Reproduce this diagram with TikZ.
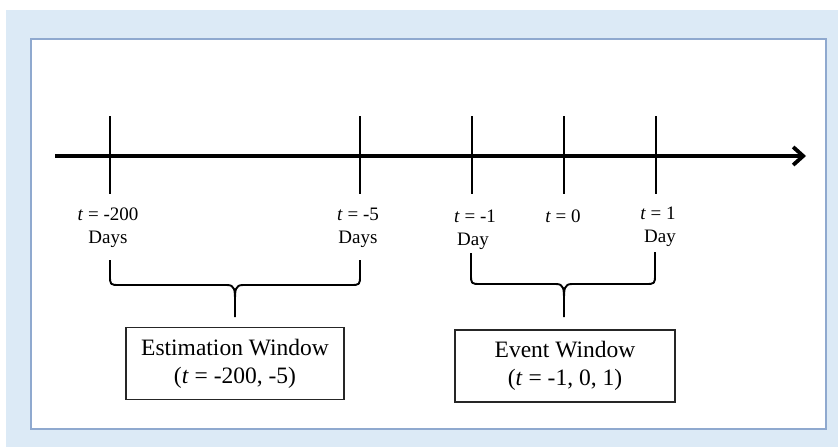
\documentclass[tikz,border=0pt]{standalone}
\usepackage{fontspec}
\setmainfont{Liberation Serif}
\usetikzlibrary{arrows.meta}
\definecolor{bgblue}{HTML}{DCEAF6}
\definecolor{frameblue}{HTML}{8FA9CF}
\tikzset{
  tick/.style={line width=2pt},
  tlabel/.style={anchor=base, inner sep=0pt, font=\fontsize{19}{22}\selectfont},
  brace/.style={line width=1.9pt, line join=round},
  winbox/.style={draw=black!85, line width=1.1pt, align=center, inner sep=0pt,
    font=\fontsize{23.5}{28}\selectfont}
}
\begin{document}
\begin{tikzpicture}[x=1pt,y=-1pt]
\useasboundingbox (0,0) rectangle (838,447);
\fill[white] (0,0) rectangle (838,447);
\fill[bgblue] (6,10) rectangle (838,447);
\draw[frameblue, line width=1.4pt, fill=white] (31,39) rectangle (826,429);

% axis
\coordinate (axL) at (55,156);
\coordinate (axR) at (806,156);
\draw[line width=3.6pt, -{Straight Barb[length=10pt, width=18pt, line width=3.8pt]}] (axL) -- (axR);

% ticks
\foreach \n/\x in {a/110, b/360, c/472, d/564, e/656}{
  \coordinate (\n top) at (\x,116);
  \coordinate (\n bot) at (\x,194);
  \draw[tick] (\n top) -- (\n bot);
}

% tick labels
\node[tlabel] (la1) at (108,220) {\textit{t} = -200};
\node[tlabel] (la2) at (108,243) {Days};
\node[tlabel] (lb1) at (358,220) {\textit{t} = -5};
\node[tlabel] (lb2) at (358,243) {Days};
\node[tlabel] (lc1) at (475,222) {\textit{t} = -1};
\node[tlabel] (lc2) at (473,245) {Day};
\node[tlabel] (ld1) at (563,222) {\textit{t} = 0};
\node[tlabel] (le1) at (658,219) {\textit{t} = 1};
\node[tlabel] (le2) at (660,242) {Day};

% boxes
\node[winbox, minimum width=218pt, minimum height=72pt] (est) at (235,363.5)
  {Estimation Window\\(\textit{t} = -200, -5)};
\node[winbox, minimum width=220pt, minimum height=72pt] (evt) at (565,366)
  {Event Window\\(\textit{t} = -1, 0, 1)};

% estimation brace
\coordinate (eL) at (110,260);
\coordinate (eR) at (360,260);
\coordinate (eM) at (235,317);
\draw[brace] (eL) -- (110,275) .. controls (110,285) .. (120,285) -- (227,285)
  .. controls (235,285) and (235,290) .. (235,302) -- (eM);
\draw[brace] (eR) -- (360,275) .. controls (360,285) .. (350,285) -- (243,285)
  .. controls (235,285) and (235,290) .. (235,302);

% event brace
\coordinate (vL) at (471,253);
\coordinate (vR) at (655,252);
\coordinate (vM) at (564,317);
\draw[brace] (vL) -- (471,274) .. controls (471,284) .. (481,284) -- (556,284)
  .. controls (564,284) and (564,289) .. (564,301) -- (vM);
\draw[brace] (vR) -- (655,274) .. controls (655,284) .. (645,284) -- (572,284)
  .. controls (564,284) and (564,289) .. (564,301);
\end{tikzpicture}
\end{document}
